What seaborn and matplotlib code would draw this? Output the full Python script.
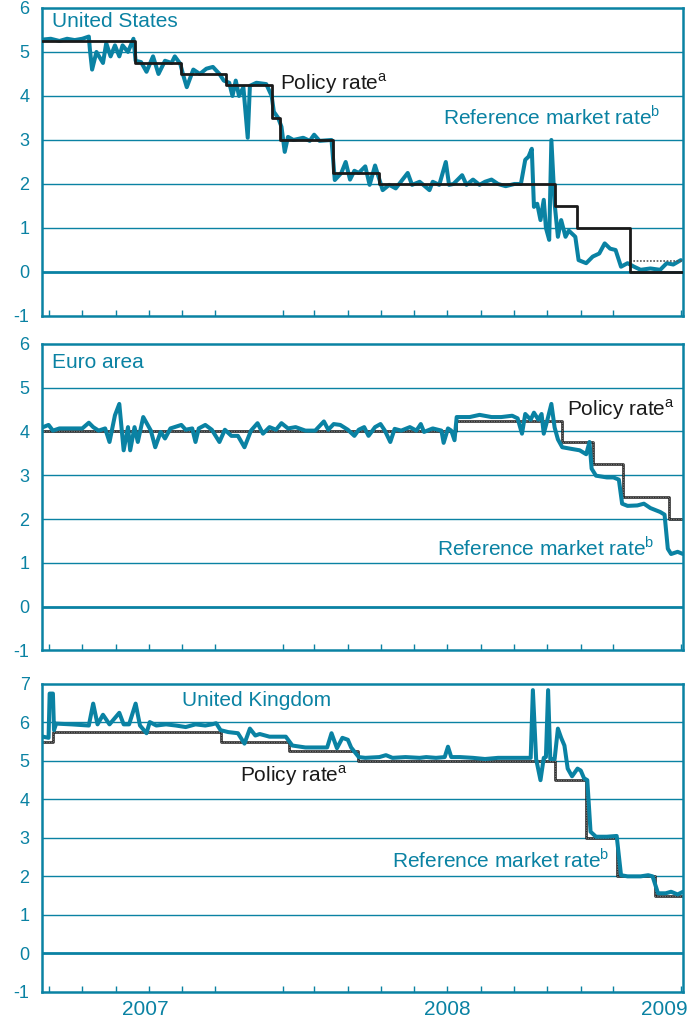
import matplotlib
matplotlib.use("Agg")
import matplotlib.pyplot as plt
import matplotlib.dates as mdates
import pandas as pd
import seaborn as sns

TEAL = "#0a82a3"

# --- United States ---
us_ref_dates = ["2007-06-25", "2007-07-03", "2007-07-11", "2007-07-18", "2007-07-25", "2007-08-01",
                "2007-08-07", "2007-08-08", "2007-08-10", "2007-08-14", "2007-08-20", "2007-08-23",
                "2007-08-27", "2007-08-31", "2007-09-04", "2007-09-07", "2007-09-12", "2007-09-17",
                "2007-09-19", "2007-09-24", "2007-09-29", "2007-10-05", "2007-10-10", "2007-10-16",
                "2007-10-22", "2007-10-25", "2007-10-30", "2007-11-02", "2007-11-05", "2007-11-11",
                "2007-11-17", "2007-11-23", "2007-11-29", "2007-12-05", "2007-12-09", "2007-12-14",
                "2007-12-17", "2007-12-20", "2007-12-23", "2007-12-27", "2007-12-31", "2008-01-02",
                "2008-01-08", "2008-01-17", "2008-01-22", "2008-01-24", "2008-01-28", "2008-01-31",
                "2008-02-03", "2008-02-06", "2008-02-11", "2008-02-20", "2008-02-26", "2008-03-01",
                "2008-03-06", "2008-03-17", "2008-03-20", "2008-03-26", "2008-03-30", "2008-04-03",
                "2008-04-07", "2008-04-11", "2008-04-17", "2008-04-21", "2008-04-26", "2008-05-03",
                "2008-05-09", "2008-05-15", "2008-05-26", "2008-05-30", "2008-06-06", "2008-06-15",
                "2008-06-18", "2008-06-24", "2008-06-30", "2008-07-03", "2008-07-07", "2008-07-15",
                "2008-07-19", "2008-07-25", "2008-07-31", "2008-08-05", "2008-08-11", "2008-08-17",
                "2008-08-24", "2008-09-01", "2008-09-07", "2008-09-11", "2008-09-14", "2008-09-17",
                "2008-09-19", "2008-09-22", "2008-09-25", "2008-09-28", "2008-09-30", "2008-10-03",
                "2008-10-05", "2008-10-08", "2008-10-11", "2008-10-14", "2008-10-18", "2008-10-21",
                "2008-10-27", "2008-10-30", "2008-11-06", "2008-11-12", "2008-11-18", "2008-11-23",
                "2008-11-28", "2008-12-03", "2008-12-08", "2008-12-14", "2008-12-20", "2008-12-26",
                "2009-01-04", "2009-01-13", "2009-01-19", "2009-01-25", "2009-02-01"]
us_ref_vals = [5.28, 5.30, 5.25, 5.30, 5.27, 5.30,
               5.35, 5.05, 4.60, 5.00, 4.75, 5.20,
               4.90, 5.15, 4.90, 5.15, 5.00, 5.30,
               4.80, 4.77, 4.55, 4.90, 4.50, 4.80,
               4.75, 4.90, 4.73, 4.45, 4.20, 4.60,
               4.50, 4.62, 4.66, 4.50, 4.35, 4.30,
               4.00, 4.35, 4.00, 4.20, 3.05, 4.23,
               4.30, 4.27, 4.00, 3.64, 3.50, 3.30,
               2.73, 3.07, 3.00, 3.05, 2.98, 3.12,
               2.98, 3.00, 2.09, 2.25, 2.50, 2.10,
               2.30, 2.25, 2.40, 1.98, 2.42, 1.86,
               1.98, 1.90, 2.25, 1.98, 2.05, 1.86,
               2.05, 1.98, 2.50, 1.98, 2.00, 2.20,
               1.98, 2.10, 1.98, 2.05, 2.10, 2.00,
               1.95, 2.00, 2.00, 2.55, 2.62, 2.80,
               1.48, 1.55, 1.18, 1.64, 1.00, 0.73,
               3.00, 1.55, 0.80, 1.18, 0.80, 0.94,
               0.80, 0.27, 0.20, 0.35, 0.42, 0.65,
               0.53, 0.50, 0.12, 0.20, 0.12, 0.05,
               0.08, 0.05, 0.20, 0.17, 0.27]
us_pol_dates = ["2007-06-25", "2007-09-18", "2007-10-31", "2007-12-11", "2008-01-22", "2008-01-30",
                "2008-03-18", "2008-04-30", "2008-10-08", "2008-10-29", "2008-12-16", "2009-02-03"]
us_pol_vals = [5.25, 4.75, 4.50, 4.25, 3.50, 3.00, 2.25, 2.00, 1.50, 1.00, 0.00, 0.00]
us_band_dates = ["2008-12-16", "2009-02-03"]
us_band_vals = [0.25, 0.25]

# --- Euro area ---
ea_ref_dates = ["2007-06-26", "2007-07-01", "2007-07-05", "2007-07-11", "2007-08-01", "2007-08-07",
                "2007-08-11", "2007-08-16", "2007-08-22", "2007-08-26", "2007-08-31", "2007-09-04",
                "2007-09-08", "2007-09-12", "2007-09-14", "2007-09-18", "2007-09-21", "2007-09-26",
                "2007-10-03", "2007-10-07", "2007-10-12", "2007-10-16", "2007-10-21", "2007-10-31",
                "2007-11-04", "2007-11-10", "2007-11-13", "2007-11-16", "2007-11-22", "2007-11-28",
                "2007-12-05", "2007-12-10", "2007-12-16", "2007-12-22", "2007-12-28", "2008-01-03",
                "2008-01-09", "2008-01-14", "2008-01-20", "2008-01-26", "2008-01-31", "2008-02-06",
                "2008-02-13", "2008-02-22", "2008-03-02", "2008-03-10", "2008-03-14", "2008-03-19",
                "2008-03-25", "2008-04-01", "2008-04-07", "2008-04-11", "2008-04-16", "2008-04-20",
                "2008-04-26", "2008-05-01", "2008-05-05", "2008-05-10", "2008-05-14", "2008-05-20",
                "2008-05-28", "2008-06-03", "2008-06-07", "2008-06-10", "2008-06-18", "2008-06-26",
                "2008-06-28", "2008-07-02", "2008-07-05", "2008-07-08", "2008-07-10", "2008-07-22",
                "2008-07-31", "2008-08-11", "2008-08-20", "2008-08-30", "2008-09-04", "2008-09-08",
                "2008-09-11", "2008-09-16", "2008-09-19", "2008-09-23", "2008-09-26", "2008-09-28",
                "2008-10-02", "2008-10-05", "2008-10-08", "2008-10-11", "2008-10-15", "2008-10-24",
                "2008-10-31", "2008-11-06", "2008-11-09", "2008-11-11", "2008-11-15", "2008-11-25",
                "2008-12-01", "2008-12-06", "2008-12-09", "2008-12-14", "2008-12-23", "2008-12-29",
                "2009-01-04", "2009-01-13", "2009-01-17", "2009-01-20", "2009-01-23", "2009-01-29",
                "2009-02-03"]
ea_ref_vals = [4.10, 4.15, 4.02, 4.07, 4.07, 4.20,
               4.10, 4.02, 4.07, 3.76, 4.37, 4.63,
               3.57, 4.10, 3.57, 4.10, 3.76, 4.33,
               4.02, 3.64, 3.99, 3.84, 4.07, 4.15,
               4.04, 4.07, 3.76, 4.07, 4.15, 4.04,
               3.76, 4.04, 3.90, 3.90, 3.64, 4.02,
               4.19, 3.95, 4.10, 4.04, 4.19, 4.07,
               4.10, 4.02, 4.02, 4.23, 4.04, 4.17,
               4.15, 4.04, 3.90, 4.04, 4.10, 3.90,
               4.10, 4.17, 4.02, 3.76, 4.06, 4.02,
               4.10, 4.02, 4.17, 3.99, 4.07, 4.02,
               3.74, 4.07, 4.02, 3.80, 4.33, 4.33,
               4.38, 4.33, 4.33, 4.36, 4.30, 3.95,
               4.40, 4.27, 4.43, 4.27, 4.40, 3.95,
               4.33, 4.63, 4.09, 3.82, 3.64, 3.60,
               3.57, 3.48, 3.76, 3.15, 2.99, 2.95,
               2.95, 2.90, 2.35, 2.30, 2.31, 2.35,
               2.25, 2.16, 2.10, 1.32, 1.20, 1.25,
               1.20]
ea_pol_dates = ["2007-06-25", "2008-07-09", "2008-10-15", "2008-11-12", "2008-12-10", "2009-01-21",
                "2009-02-03"]
ea_pol_vals = [4.00, 4.25, 3.75, 3.25, 2.50, 2.00, 2.00]

# --- United Kingdom ---
uk_ref_dates = ["2007-06-26", "2007-07-01", "2007-07-02", "2007-07-05", "2007-07-06", "2007-07-08",
                "2007-07-22", "2007-08-07", "2007-08-11", "2007-08-15", "2007-08-20", "2007-08-26",
                "2007-09-04", "2007-09-08", "2007-09-13", "2007-09-19", "2007-09-23", "2007-09-29",
                "2007-10-02", "2007-10-08", "2007-10-17", "2007-10-26", "2007-11-04", "2007-11-13",
                "2007-11-22", "2007-11-28", "2007-12-02", "2007-12-06", "2007-12-13", "2007-12-22",
                "2007-12-28", "2008-01-02", "2008-01-07", "2008-01-11", "2008-01-20", "2008-01-29",
                "2008-02-04", "2008-02-10", "2008-02-22", "2008-03-05", "2008-03-13", "2008-03-17",
                "2008-03-22", "2008-03-27", "2008-04-01", "2008-04-04", "2008-04-11", "2008-04-17",
                "2008-04-30", "2008-05-06", "2008-05-12", "2008-05-24", "2008-06-06", "2008-06-12",
                "2008-06-21", "2008-06-29", "2008-07-02", "2008-07-05", "2008-07-13", "2008-07-25",
                "2008-08-05", "2008-08-17", "2008-09-01", "2008-09-16", "2008-09-18", "2008-09-21",
                "2008-09-25", "2008-09-28", "2008-09-30", "2008-10-02", "2008-10-04", "2008-10-08",
                "2008-10-11", "2008-10-14", "2008-10-17", "2008-10-20", "2008-10-24", "2008-10-29",
                "2008-11-01", "2008-11-04", "2008-11-07", "2008-11-10", "2008-11-15", "2008-11-25",
                "2008-12-04", "2008-12-08", "2008-12-14", "2008-12-26", "2009-01-02", "2009-01-06",
                "2009-01-11", "2009-01-18", "2009-01-23", "2009-01-29", "2009-02-03"]
uk_ref_vals = [5.63, 5.60, 6.75, 6.75, 5.80, 5.97,
               5.95, 5.92, 6.49, 5.95, 6.20, 5.95,
               6.25, 5.95, 5.95, 6.49, 5.92, 5.72,
               6.01, 5.92, 5.95, 5.92, 5.88, 5.95,
               5.92, 5.95, 5.98, 5.80, 5.75, 5.72,
               5.45, 5.84, 5.66, 5.70, 5.63, 5.63,
               5.63, 5.40, 5.35, 5.35, 5.35, 5.72,
               5.33, 5.60, 5.55, 5.35, 5.10, 5.08,
               5.10, 5.15, 5.08, 5.10, 5.08, 5.10,
               5.08, 5.10, 5.37, 5.10, 5.10, 5.08,
               5.05, 5.08, 5.08, 5.08, 6.84, 5.05,
               4.50, 5.08, 5.10, 6.84, 5.05, 5.05,
               5.84, 5.60, 5.40, 4.80, 4.60, 4.80,
               4.75, 4.55, 4.50, 3.16, 3.03, 3.03,
               3.05, 2.03, 2.00, 2.00, 2.03, 2.00,
               1.56, 1.56, 1.60, 1.53, 1.60]
uk_pol_dates = ["2007-06-25", "2007-07-05", "2007-12-06", "2008-02-07", "2008-04-10", "2008-10-08",
                "2008-11-06", "2008-12-04", "2009-01-08", "2009-02-03"]
uk_pol_vals = [5.50, 5.75, 5.50, 5.25, 5.00, 4.50, 3.00, 2.00, 1.50, 1.50]

panels = [
    ("United States", us_ref_dates, us_ref_vals, us_pol_dates, us_pol_vals, list(range(-1, 7))),
    ("Euro area", ea_ref_dates, ea_ref_vals, ea_pol_dates, ea_pol_vals, list(range(-1, 7))),
    ("United Kingdom", uk_ref_dates, uk_ref_vals, uk_pol_dates, uk_pol_vals, list(range(-1, 8))),
]

sns.set_theme(style="white")
plt.rcParams['font.family'] = ['Liberation Sans', 'DejaVu Sans']
plt.rcParams['mathtext.fontset'] = 'custom'
plt.rcParams['mathtext.rm'] = 'Liberation Sans'

fig = plt.figure(figsize=(6.97, 10.21), dpi=100)
rects = [[0.0603, 0.6905, 0.9197, 0.3017],
         [0.0603, 0.3631, 0.9197, 0.3000],
         [0.0603, 0.0286, 0.9197, 0.3015]]

xmin, xmax = pd.Timestamp("2007-06-25"), pd.Timestamp("2009-02-03")

# label positions in axes fraction: (name), (policy), (reference)
label_pos = [
    ((0.016, 0.955), (0.371, 0.753), (0.626, 0.646)),
    ((0.016, 0.941), (0.819, 0.784), (0.616, 0.337)),
    ((0.218, 0.945), (0.309, 0.701), (0.546, 0.429)),
]
FS = 15

axes = []
for i, (name, rd, rv, pd_, pv, yt) in enumerate(panels):
    ax = fig.add_axes(rects[i])
    axes.append(ax)
    ref = pd.DataFrame({"date": pd.to_datetime(rd), "rate": rv})
    pol = pd.DataFrame({"date": pd.to_datetime(pd_), "rate": pv})

    for y in yt[1:-1]:
        ax.axhline(y, color=TEAL, lw=1.0 if y != 0 else 2.0, zorder=1)

    if i == 0:
        sns.lineplot(data=ref, x="date", y="rate", ax=ax, color=TEAL, lw=2.9, zorder=3)
        band = pd.DataFrame({"date": pd.to_datetime(us_band_dates), "rate": us_band_vals})
        sns.lineplot(data=band, x="date", y="rate", ax=ax, color="#555555", lw=1.2,
                     linestyle=(0, (1, 1)), zorder=4)
        sns.lineplot(data=pol, x="date", y="rate", ax=ax, color="#1a1a1a", lw=2.0,
                     drawstyle="steps-post", zorder=5)
    else:
        sns.lineplot(data=pol, x="date", y="rate", ax=ax, color="#1a1a1a", lw=1.8,
                     drawstyle="steps-post", zorder=2)
        sns.lineplot(data=pol, x="date", y="rate", ax=ax, color="#9a9a9a", lw=0.6,
                     drawstyle="steps-post", linestyle=(0, (1, 1)), zorder=2.5)
        sns.lineplot(data=ref, x="date", y="rate", ax=ax, color=TEAL, lw=2.9, zorder=3)

    ax.set_xlim(xmin, xmax)
    ax.set_ylim(yt[0], yt[-1])
    ax.set_yticks(yt)
    ax.set_yticklabels([str(v) for v in yt])
    ax.set_xlabel("")
    ax.set_ylabel("")
    ax.tick_params(axis="y", length=0, pad=9, labelsize=13, labelcolor=TEAL)

    ax.xaxis.set_major_locator(mdates.YearLocator())
    ax.xaxis.set_minor_locator(mdates.MonthLocator())
    ax.tick_params(axis="x", which="major", direction="in", length=11, width=1.0,
                   color=TEAL, labelbottom=False)
    ax.tick_params(axis="x", which="minor", direction="in", length=4.5, width=1.0,
                   color=TEAL, bottom=True)
    for s in ax.spines.values():
        s.set_color(TEAL)
        s.set_linewidth(1.8)

    (nx, ny), (px, py), (qx, qy) = label_pos[i]
    ax.text(nx, ny, name, transform=ax.transAxes, color=TEAL, fontsize=FS, va="center", ha="left")
    ax.text(px, py, r"Policy rate$^{\mathrm{a}}$", transform=ax.transAxes, color="#1a1a1a",
            fontsize=FS, va="center", ha="left")
    ax.text(qx, qy, r"Reference market rate$^{\mathrm{b}}$", transform=ax.transAxes, color=TEAL,
            fontsize=FS, va="center", ha="left")

# year labels under bottom panel
ax = axes[-1]
year_mid = [pd.Timestamp("2007-09-28"), pd.Timestamp("2008-07-01"), pd.Timestamp("2009-01-17")]
year_txt = ["2007", "2008", "2009"]
for d, t in zip(year_mid, year_txt):
    ax.text(d, -0.058, t, transform=ax.get_xaxis_transform(), color=TEAL, fontsize=FS,
            ha="center", va="center")

fig.savefig("out.png", dpi=100)
